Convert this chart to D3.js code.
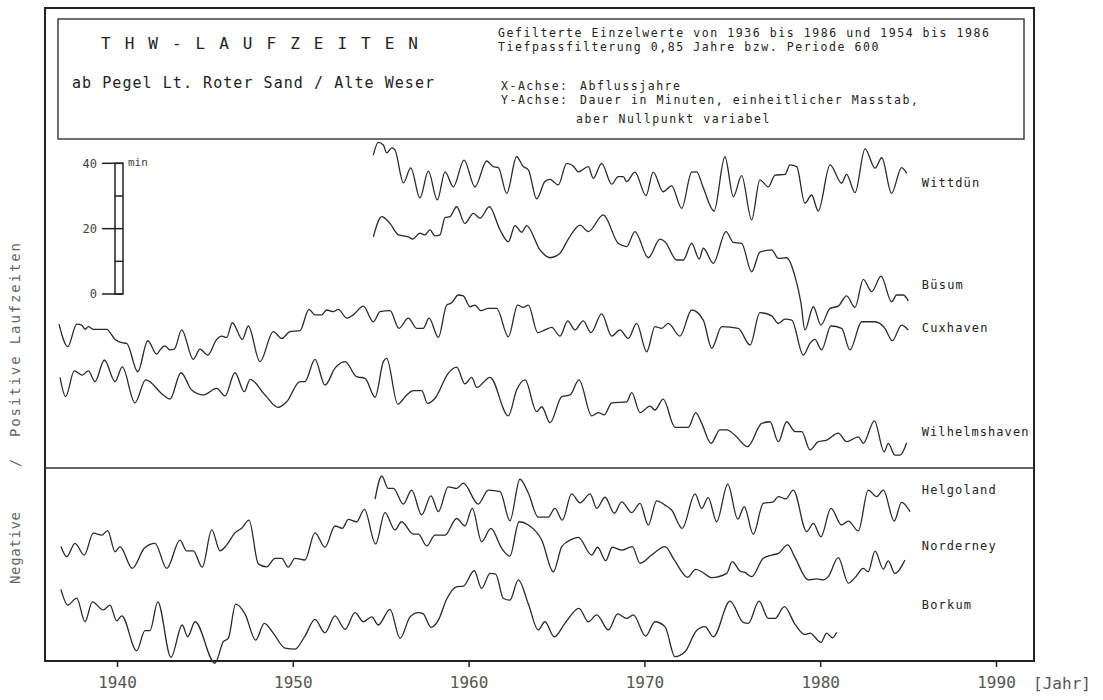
<!DOCTYPE html>
<html>
<head>
<meta charset="utf-8">
<script src="https://cdn.jsdelivr.net/npm/d3@7"></script>
<style>
  body { margin: 0; background: #fff; }
  svg { display: block; }
  text { font-family: "DejaVu Sans Mono", "Liberation Mono", monospace; }
</style>
</head>
<body>
<div id="chart"></div>
<script>
// station names, in drawing order
var stations = ["Wittdün", "Büsum", "Cuxhaven", "Wilhelmshaven", "Helgoland", "Norderney", "Borkum"];
// where the station name sits (minutes, same scale as the curves)
var labelMin = [34, 2.8, -10.4, -42.2, -60, -77.1, -95.2];

// [year, minutes], zero point shifted per station
var wittdun = [[1954.58,42.5],[1954.86,46.4],[1955.15,45.6],[1955.34,43.2],[1955.63,44.7],[1955.81,44.1],[1956.29,34.0],[1956.71,38.6],[1957.23,29.4],[1957.71,37.6],[1958.22,28.8],[1958.66,37.4],[1959.13,32.8],[1959.74,41.0],[1960.36,32.8],[1961.03,40.7],[1961.40,39.0],[1961.69,38.7],[1962.17,30.8],[1962.73,42.0],[1963.11,39.0],[1963.40,38.0],[1963.87,29.1],[1964.34,34.4],[1964.63,35.1],[1965.10,33.4],[1965.58,40.0],[1965.95,39.2],[1966.24,37.4],[1966.81,39.0],[1967.09,35.4],[1967.57,40.0],[1968.14,33.6],[1968.51,35.9],[1968.80,35.9],[1968.99,34.4],[1969.46,37.3],[1970.09,30.1],[1970.50,37.3],[1971.07,31.3],[1971.55,33.1],[1972.12,26.2],[1972.69,37.3],[1972.97,37.4],[1973.35,32.5],[1973.96,25.4],[1974.58,42.0],[1975.06,29.8],[1975.53,36.2],[1976.10,22.7],[1976.57,34.9],[1977.05,32.8],[1977.43,36.4],[1978.00,36.6],[1978.28,39.5],[1978.66,39.0],[1979.13,27.8],[1979.51,30.3],[1979.89,25.4],[1980.56,39.5],[1981.22,33.9],[1981.50,36.6],[1981.98,31.0],[1982.55,44.4],[1983.12,38.5],[1983.50,41.7],[1984.06,30.8],[1984.63,38.7],[1984.92,36.9]];

var busum = [[1954.58,17.5],[1955.06,23.7],[1955.24,23.2],[1955.53,21.6],[1956.00,18.1],[1956.57,17.5],[1956.82,16.8],[1957.23,18.6],[1957.52,18.1],[1957.80,19.6],[1958.09,17.8],[1958.37,18.1],[1958.66,23.4],[1958.94,23.7],[1959.32,26.7],[1959.79,21.6],[1960.27,24.7],[1960.65,23.2],[1961.18,26.7],[1961.79,19.6],[1962.26,16.0],[1962.64,20.9],[1963.02,18.9],[1963.30,20.9],[1964.06,13.5],[1964.63,11.1],[1965.20,12.5],[1965.67,16.8],[1966.34,21.1],[1966.81,19.1],[1967.66,24.2],[1968.51,15.5],[1968.99,14.5],[1969.46,19.1],[1970.22,11.1],[1970.89,16.8],[1971.17,16.0],[1971.84,10.4],[1972.21,10.4],[1972.69,15.5],[1973.12,10.7],[1973.35,14.0],[1973.92,9.4],[1974.64,19.1],[1975.06,15.8],[1975.53,15.5],[1976.10,6.8],[1976.57,12.8],[1977.24,13.5],[1977.62,10.9],[1978.09,11.1],[1978.57,5.3],[1978.91,-2.9],[1979.13,-11.0],[1979.61,-3.9],[1980.04,-9.5],[1980.56,-4.4],[1981.03,-3.7],[1981.50,-0.6],[1981.98,-4.1],[1982.45,4.5],[1982.93,0.7],[1983.46,5.5],[1984.06,-2.4],[1984.35,-0.3],[1984.73,-0.3],[1985.01,-2.1]];

var cuxhaven = [[1936.70,-9.2],[1937.20,-16.1],[1937.71,-9.2],[1937.99,-9.5],[1938.18,-10.8],[1938.37,-10.0],[1938.65,-10.8],[1939.41,-10.8],[1939.89,-13.9],[1940.27,-14.9],[1940.55,-15.1],[1941.18,-23.8],[1941.75,-14.3],[1942.26,-18.4],[1942.45,-17.1],[1942.73,-15.9],[1943.01,-17.1],[1943.26,-16.9],[1943.68,-11.0],[1944.34,-20.0],[1944.72,-16.9],[1945.16,-18.7],[1945.67,-13.9],[1945.96,-12.9],[1946.24,-13.3],[1946.56,-8.8],[1947.13,-13.9],[1947.47,-9.8],[1948.13,-20.7],[1948.89,-11.5],[1949.37,-13.6],[1949.84,-11.5],[1950.41,-11.2],[1950.92,-4.7],[1951.26,-6.4],[1951.64,-6.4],[1951.93,-4.9],[1952.30,-5.4],[1952.59,-4.7],[1953.07,-7.4],[1953.44,-6.4],[1954.01,-3.7],[1954.58,-8.5],[1954.96,-5.4],[1955.53,-5.1],[1956.04,-10.5],[1956.57,-7.4],[1957.05,-10.5],[1957.42,-10.5],[1957.75,-7.4],[1958.28,-13.3],[1958.75,-3.4],[1959.04,-2.7],[1959.41,-0.3],[1959.70,-0.6],[1960.08,-3.9],[1960.36,-3.4],[1960.70,-5.1],[1961.12,-4.4],[1961.60,-4.4],[1962.26,-13.1],[1962.79,-3.4],[1963.11,-4.1],[1963.40,-3.4],[1963.93,-11.8],[1964.34,-11.0],[1964.73,-10.2],[1965.20,-12.9],[1965.64,-8.2],[1966.05,-11.0],[1966.52,-8.2],[1966.96,-11.8],[1967.57,-6.1],[1968.14,-12.9],[1968.61,-11.0],[1969.08,-13.6],[1969.56,-9.0],[1970.13,-17.7],[1970.60,-10.0],[1970.98,-10.5],[1971.36,-9.0],[1972.02,-12.9],[1972.69,-4.9],[1973.35,-8.0],[1973.83,-16.6],[1974.40,-10.0],[1975.34,-10.5],[1976.01,-15.6],[1976.57,-5.7],[1977.24,-6.7],[1977.62,-9.0],[1978.00,-7.7],[1978.38,-8.0],[1979.04,-18.7],[1979.42,-15.1],[1979.70,-13.9],[1980.08,-17.1],[1980.61,-9.8],[1981.22,-10.5],[1981.69,-17.1],[1982.36,-8.5],[1983.12,-8.5],[1983.68,-10.5],[1984.10,-14.3],[1984.63,-9.5],[1985.01,-11.0]];

var wilhelmshaven = [[1936.76,-25.5],[1937.08,-31.4],[1937.57,-23.5],[1938.03,-24.8],[1938.37,-23.5],[1938.75,-26.8],[1939.28,-20.2],[1939.89,-26.8],[1940.30,-22.3],[1941.02,-33.3],[1941.63,-26.3],[1942.63,-30.9],[1943.01,-32.2],[1943.64,-24.1],[1944.25,-29.4],[1944.91,-30.9],[1945.67,-28.9],[1946.14,-31.2],[1946.71,-24.1],[1947.24,-29.9],[1947.57,-26.1],[1948.42,-30.9],[1949.17,-34.7],[1949.65,-33.0],[1950.41,-26.8],[1950.69,-26.8],[1951.26,-20.0],[1951.83,-27.9],[1952.40,-22.7],[1952.97,-20.7],[1953.63,-25.3],[1954.11,-25.8],[1954.68,-31.6],[1955.15,-20.7],[1955.34,-19.7],[1955.97,-33.7],[1956.48,-30.9],[1956.85,-29.6],[1957.33,-29.6],[1957.67,-33.5],[1958.09,-31.9],[1958.84,-24.3],[1959.32,-22.4],[1959.79,-27.5],[1960.18,-25.5],[1960.46,-28.6],[1961.22,-25.5],[1962.26,-37.3],[1962.73,-29.4],[1963.21,-26.3],[1963.87,-36.0],[1964.16,-34.5],[1964.63,-39.4],[1965.30,-31.4],[1965.77,-30.9],[1966.28,-26.3],[1967.00,-37.3],[1967.38,-36.3],[1967.72,-37.0],[1968.14,-33.3],[1968.99,-33.0],[1969.28,-30.2],[1969.75,-36.3],[1970.32,-34.3],[1970.60,-35.5],[1971.07,-32.2],[1971.74,-40.8],[1972.50,-40.8],[1972.92,-36.3],[1973.26,-39.6],[1973.79,-45.7],[1974.30,-41.6],[1974.68,-41.6],[1975.15,-43.2],[1975.87,-46.7],[1976.67,-39.6],[1977.14,-39.1],[1977.62,-45.2],[1978.09,-39.1],[1978.57,-42.1],[1978.95,-42.1],[1979.42,-47.7],[1979.89,-45.2],[1980.37,-44.7],[1981.03,-42.6],[1981.50,-45.2],[1982.17,-43.7],[1982.45,-45.7],[1983.08,-38.8],[1983.64,-48.3],[1983.87,-45.7],[1984.25,-49.3],[1984.54,-49.3],[1984.92,-45.5]];

var helgoland = [[1954.68,-62.8],[1955.06,-55.7],[1955.43,-59.5],[1955.72,-59.5],[1956.29,-64.3],[1956.76,-60.0],[1957.33,-67.6],[1957.86,-61.8],[1958.28,-66.6],[1958.84,-59.0],[1959.32,-59.5],[1959.70,-57.9],[1960.55,-64.3],[1961.12,-60.0],[1961.79,-60.5],[1962.35,-69.4],[1962.92,-56.7],[1963.40,-61.0],[1963.96,-68.3],[1964.53,-68.3],[1964.91,-65.6],[1965.33,-69.2],[1965.86,-61.2],[1966.34,-63.9],[1966.91,-61.2],[1967.29,-65.6],[1967.76,-62.2],[1968.29,-67.1],[1968.71,-63.6],[1969.28,-66.9],[1969.75,-64.1],[1970.22,-70.7],[1970.70,-63.3],[1971.17,-64.6],[1971.55,-66.1],[1972.15,-71.7],[1972.88,-61.2],[1973.26,-65.6],[1973.63,-62.3],[1974.11,-69.7],[1974.74,-58.2],[1975.31,-68.9],[1975.68,-65.1],[1976.19,-73.5],[1976.76,-64.1],[1977.33,-63.6],[1977.62,-62.0],[1978.04,-62.7],[1978.47,-60.0],[1979.23,-72.7],[1979.61,-70.2],[1980.04,-74.3],[1980.61,-65.6],[1981.22,-70.7],[1981.60,-69.5],[1982.17,-72.5],[1982.73,-60.0],[1983.21,-62.0],[1983.59,-60.0],[1984.21,-69.5],[1984.63,-63.8],[1985.11,-66.6]];

var norderney = [[1936.81,-77.3],[1937.14,-80.4],[1937.61,-76.3],[1938.14,-79.9],[1938.65,-73.2],[1939.13,-73.8],[1939.47,-72.4],[1939.89,-78.9],[1940.17,-77.3],[1940.87,-84.0],[1941.55,-77.8],[1942.16,-76.3],[1942.83,-84.0],[1943.58,-75.3],[1943.96,-78.6],[1944.34,-78.6],[1944.85,-83.6],[1945.39,-72.2],[1945.86,-78.6],[1946.24,-76.8],[1946.71,-73.1],[1947.09,-71.7],[1947.51,-69.2],[1948.04,-82.6],[1948.51,-83.5],[1948.99,-80.9],[1949.37,-80.9],[1949.74,-83.6],[1950.12,-80.9],[1950.69,-81.4],[1951.26,-73.1],[1951.83,-77.5],[1952.40,-71.0],[1952.82,-71.7],[1953.16,-69.0],[1953.63,-69.7],[1954.07,-65.9],[1954.71,-76.5],[1955.24,-66.9],[1955.81,-72.2],[1956.19,-69.7],[1956.85,-73.5],[1957.14,-73.5],[1957.62,-77.1],[1958.09,-73.8],[1958.66,-73.8],[1959.32,-68.7],[1959.79,-71.0],[1960.21,-65.6],[1960.74,-75.8],[1961.27,-71.7],[1961.88,-77.8],[1962.35,-80.2],[1962.87,-69.7],[1963.40,-70.7],[1964.16,-75.3],[1964.82,-85.0],[1965.30,-77.3],[1965.86,-75.1],[1966.24,-74.5],[1967.00,-79.9],[1967.34,-77.5],[1967.80,-81.6],[1968.17,-77.5],[1968.71,-78.4],[1969.31,-77.3],[1969.75,-82.4],[1970.41,-79.9],[1971.17,-77.3],[1971.70,-81.4],[1972.46,-86.7],[1972.92,-84.3],[1973.26,-85.0],[1973.83,-86.8],[1974.68,-85.5],[1975.00,-81.9],[1975.44,-84.8],[1975.72,-85.2],[1976.10,-86.5],[1976.76,-80.9],[1977.24,-79.9],[1977.62,-79.4],[1978.15,-76.8],[1978.57,-80.7],[1979.32,-87.5],[1979.80,-87.2],[1980.18,-87.5],[1980.46,-86.5],[1981.03,-80.7],[1981.60,-88.5],[1981.98,-86.8],[1982.45,-84.0],[1982.73,-85.0],[1983.12,-78.7],[1983.59,-84.2],[1983.87,-81.7],[1984.25,-85.5],[1984.82,-81.4]];

var borkum = [[1936.81,-90.4],[1937.20,-95.2],[1937.71,-93.1],[1938.18,-100.3],[1938.60,-94.2],[1939.22,-96.7],[1939.60,-95.2],[1939.98,-100.0],[1940.27,-98.5],[1941.12,-109.2],[1941.59,-103.0],[1941.88,-103.0],[1942.32,-94.2],[1943.07,-111.2],[1943.71,-101.3],[1944.02,-104.9],[1944.44,-100.3],[1945.57,-113.0],[1946.05,-106.4],[1946.33,-105.4],[1946.75,-94.9],[1947.28,-97.9],[1947.89,-105.9],[1948.38,-100.8],[1948.89,-103.8],[1949.56,-108.4],[1950.12,-108.7],[1950.69,-104.7],[1951.26,-99.6],[1951.83,-103.7],[1952.40,-98.5],[1952.97,-102.6],[1953.54,-97.5],[1954.01,-100.3],[1954.49,-98.8],[1954.86,-101.3],[1955.53,-96.5],[1956.10,-105.4],[1956.67,-98.8],[1957.14,-97.5],[1957.42,-97.9],[1957.86,-102.0],[1958.28,-99.8],[1958.75,-93.4],[1959.32,-89.6],[1959.70,-89.4],[1960.32,-84.7],[1960.74,-90.1],[1961.22,-85.5],[1961.54,-85.7],[1961.97,-93.1],[1962.35,-93.7],[1962.83,-87.5],[1963.40,-94.9],[1963.96,-102.8],[1964.34,-100.3],[1964.87,-104.9],[1965.48,-100.8],[1966.28,-96.2],[1966.81,-100.3],[1967.29,-98.2],[1967.95,-102.8],[1968.48,-97.9],[1968.99,-99.3],[1969.37,-98.2],[1970.07,-104.7],[1970.60,-100.3],[1971.17,-101.8],[1971.74,-111.0],[1972.31,-109.5],[1972.97,-103.0],[1973.45,-101.8],[1973.92,-104.9],[1974.87,-94.0],[1975.62,-100.5],[1975.91,-100.8],[1976.52,-94.0],[1977.05,-99.3],[1977.43,-99.3],[1977.96,-95.7],[1978.57,-101.1],[1979.13,-104.2],[1979.42,-103.8],[1980.04,-106.6],[1980.37,-103.8],[1980.69,-105.2],[1980.94,-103.5]];

var series = [wittdun, busum, cuxhaven, wilhelmshaven, helgoland, norderney, borkum];

var xTicks = [1940, 1950, 1960, 1970, 1980, 1990];
var scaleTicks = [0, 20, 40];
var scaleSteps = [0, 10, 20, 30, 40];

var headerLines = [
  "Gefilterte Einzelwerte von 1936 bis 1986 und 1954 bis 1986",
  "Tiefpassfilterung 0,85 Jahre bzw. Periode 600"
];

var svgWidth = 1103;
var svgHeight = 700;

// frame of the plot
var frame = { left: 45, top: 8, right: 1034, bottom: 661 };

var svg = d3.select("#chart").append("svg")
  .attr("width", svgWidth).attr("height", svgHeight);

svg.append("rect").attr("width", svgWidth).attr("height", svgHeight).attr("fill", "#fff");

var x = d3.scaleLinear().domain([1940, 1990]).range([117, 996]);
// one scale for every curve, zero is only a reference
var y = d3.scaleLinear().domain([0, 40]).range([294, 163.3]);

// outer frame
svg.append("rect")
  .attr("x", frame.left).attr("y", frame.top)
  .attr("width", frame.right - frame.left).attr("height", frame.bottom - frame.top)
  .attr("fill", "none").attr("stroke", "#222").attr("stroke-width", 2);

// header box
svg.append("rect")
  .attr("x", 58).attr("y", 19).attr("width", 966).attr("height", 120)
  .attr("fill", "none").attr("stroke", "#333").attr("stroke-width", 1.4);

svg.append("text")
  .attr("x", 101).attr("y", 49)
  .attr("font-size", 16).attr("fill", "#222")
  .attr("textLength", 317).attr("lengthAdjust", "spacing")
  .text("T H W  -  L A U F Z E I T E N");

svg.append("text")
  .attr("x", 72).attr("y", 88)
  .attr("font-size", 15).attr("fill", "#222")
  .attr("textLength", 362).attr("lengthAdjust", "spacing")
  .text("ab Pegel Lt. Roter Sand / Alte Weser");

svg.selectAll(".hdr")
  .data(headerLines)
  .enter()
  .append("text")
  .attr("class", "hdr")
  .attr("x", 498)
  .attr("y", (d, i) => 37 + i * 14)
  .attr("font-size", 11.5).attr("fill", "#222")
  .attr("textLength", d => d.length * 8.5 - 2).attr("lengthAdjust", "spacing")
  .text(d => d);

var axisNotes = [
  { x: 501, y: 90, t: "X-Achse:" },
  { x: 580, y: 90, t: "Abflussjahre" },
  { x: 501, y: 104, t: "Y-Achse:" },
  { x: 580, y: 104, t: "Dauer in Minuten, einheitlicher Masstab," },
  { x: 576, y: 123, t: "aber Nullpunkt variabel" }
];

svg.selectAll(".note")
  .data(axisNotes)
  .enter()
  .append("text")
  .attr("class", "note")
  .attr("x", d => d.x).attr("y", d => d.y)
  .attr("font-size", 11.5).attr("fill", "#222")
  .attr("textLength", d => d.t.length * 8.5 - 2).attr("lengthAdjust", "spacing")
  .text(d => d.t);

// line between positive and negative runtimes
svg.append("line")
  .attr("x1", frame.left).attr("x2", frame.right)
  .attr("y1", 468).attr("y2", 468)
  .attr("stroke", "#333").attr("stroke-width", 1.3);

// left side label
var sideLabels = [
  { t: "Negative", c: 548, len: 72 },
  { t: "/", c: 463, len: 9 },
  { t: "Positive Laufzeiten", c: 340, len: 194 }
];

svg.selectAll(".side")
  .data(sideLabels)
  .enter()
  .append("text")
  .attr("class", "side")
  .attr("transform", d => `translate(20, ${d.c}) rotate(-90)`)
  .attr("text-anchor", "middle")
  .attr("font-size", 14).attr("fill", "#666")
  .attr("textLength", d => d.len).attr("lengthAdjust", "spacing")
  .text(d => d.t);

// minute scale bar
var bar = svg.append("g").attr("class", "scalebar");

bar.append("rect")
  .attr("x", 115).attr("y", y(40))
  .attr("width", 8).attr("height", y(0) - y(40))
  .attr("fill", "none").attr("stroke", "#222").attr("stroke-width", 1.5);

bar.selectAll(".step")
  .data(scaleSteps)
  .enter()
  .append("line")
  .attr("class", "step")
  .attr("x1", d => scaleTicks.indexOf(d) >= 0 ? 102 : 115)
  .attr("x2", 123)
  .attr("y1", d => y(d)).attr("y2", d => y(d))
  .attr("stroke", "#222").attr("stroke-width", 1.5);

bar.selectAll(".num")
  .data(scaleTicks)
  .enter()
  .append("text")
  .attr("class", "num")
  .attr("x", 97).attr("y", d => y(d))
  .attr("dy", "0.35em")
  .attr("text-anchor", "end")
  .attr("font-size", 12).attr("fill", "#444")
  .text(d => d);

bar.append("text")
  .attr("x", 128).attr("y", y(40))
  .attr("dy", "0.2em")
  .attr("font-size", 11).attr("fill", "#444")
  .text("min");

// curves
var line = d3.line()
  .x(d => x(d[0]))
  .y(d => y(d[1]))
  .curve(d3.curveMonotoneX);

svg.selectAll(".curve")
  .data(series)
  .enter()
  .append("path")
  .attr("class", "curve")
  .attr("d", line)
  .attr("fill", "none")
  .attr("stroke", "#2a2a2a")
  .attr("stroke-width", 1.3)
  .attr("stroke-linejoin", "round");

svg.selectAll(".name")
  .data(stations)
  .enter()
  .append("text")
  .attr("class", "name")
  .attr("x", x(1985.78))
  .attr("y", (d, i) => y(labelMin[i]))
  .attr("dy", "0.35em")
  .attr("font-size", 12).attr("fill", "#222")
  .attr("textLength", d => d.length * 8.2).attr("lengthAdjust", "spacing")
  .text(d => d);

// x axis on the frame bottom
var bottomAxis = d3.axisBottom(x)
  .tickValues(xTicks)
  .tickFormat(d3.format("d"))
  .tickSize(6)
  .tickPadding(10);

var xAxis = svg.append("g")
  .attr("transform", `translate(0, ${frame.bottom})`)
  .call(bottomAxis);

xAxis.select(".domain").remove();
xAxis.selectAll(".tick line").attr("stroke", "#222").attr("stroke-width", 1.5);
xAxis.selectAll(".tick text")
  .attr("font-family", "DejaVu Sans Mono, monospace")
  .attr("font-size", 16).attr("fill", "#555");

svg.append("text")
  .attr("x", 1033).attr("y", frame.bottom + 28)
  .attr("font-size", 16).attr("fill", "#555")
  .attr("textLength", 58).attr("lengthAdjust", "spacing")
  .text("[Jahr]");
</script>
</body>
</html>
